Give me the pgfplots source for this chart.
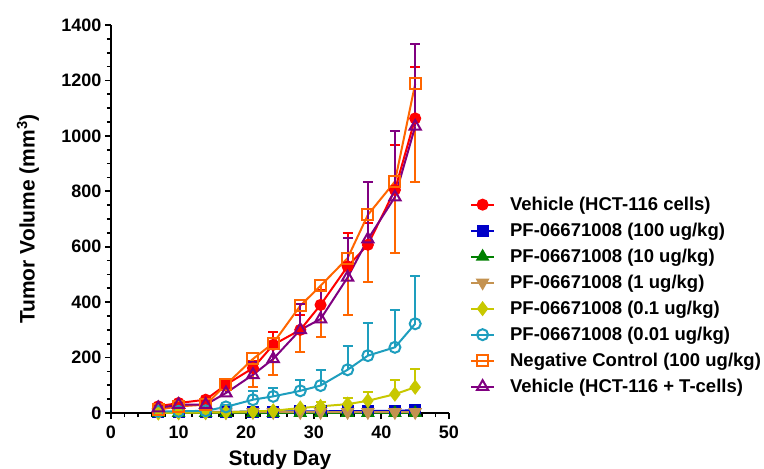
\documentclass[border=0pt]{standalone}
\usepackage{pgfplots}
\pgfplotsset{compat=1.18}
\usepackage{fontspec}
\setmainfont{Liberation Sans}

\definecolor{cRed}{RGB}{255,0,0}
\definecolor{cBlue}{RGB}{0,0,200}
\definecolor{cGreen}{RGB}{0,128,0}
\definecolor{cTan}{RGB}{196,146,80}
\definecolor{cYel}{RGB}{200,200,0}
\definecolor{cTeal}{RGB}{30,158,190}
\definecolor{cOrange}{RGB}{255,102,0}
\definecolor{cPurple}{RGB}{128,0,128}

\begin{document}
\begin{tikzpicture}
\useasboundingbox (-111pt,-56pt) rectangle (653pt,413pt);
\begin{axis}[
    scale only axis,
    width=338pt, height=388pt,
    xmin=0, xmax=50, ymin=0, ymax=1400,
    xtick={0,10,...,50}, ytick={0,200,...,1400},
    minor x tick num=4, minor y tick num=3,
    axis lines*=left,
    axis line style={-, line width=2.2pt},
    tick style={line width=1.8pt, black},
    tick align=outside,
    major tick length=6pt, minor tick length=4pt,
    clip=false,
    /pgf/number format/assume math mode=true,
    /pgf/number format/1000 sep={},
    tick label style={font=\fontsize{18}{18}\selectfont\bfseries},
    xticklabel style={yshift=-3pt},
    xlabel={Study Day},
    ylabel={Tumor Volume (mm\textsuperscript{3})},
    xlabel style={font=\fontsize{21}{21}\selectfont\bfseries, at={(axis description cs:0.5,0)}, anchor=center, yshift=-47pt},
    ylabel style={font=\fontsize{21}{21}\selectfont\bfseries, at={(axis description cs:-0.2456,0.5)}, anchor=center},
    every axis plot/.append style={line width=2pt},
    error bars/y dir=plus,
    error bars/y explicit,
    error bars/error bar style={line width=2pt},
    error bars/error mark options={rotate=90, mark size=5pt, line width=2pt},
    legend style={at={(1.053,0.567)}, anchor=north west, draw=none, fill=none,
        font=\fontsize{18.5}{18.5}\selectfont\bfseries, row sep=7.1pt,
        /tikz/every odd column/.append style={column sep=13pt}},
    legend cell align=left,
    legend image code/.code={\draw[mark repeat=2, mark phase=2] plot coordinates {(0pt,0pt) (11.5pt,0pt) (23pt,0pt)};},
]
\addplot[color=cRed, mark=*, mark size=5pt, mark options={solid, fill=cRed}] table[x=d, y=v, y error=e] {
d v e
7 24 5
10 36 6
14 48 8
17 102 15
21 162 25
24 246 45
28 300 55
31 390 55
35 529 120
38 607 80
42 805 162
45 1063 187
};
\addlegendentry{Vehicle (HCT-116 cells)}
\addplot[color=cBlue, mark=square*, mark size=5pt, mark options={solid, fill=cBlue}] table[x=d, y=v, y error=e] {
d v e
7 3 1
10 3 1
14 4 1
17 4 1
21 5 2
24 5 2
28 6 2
31 6 2
35 7 3
38 7 3
42 8 3
45 10 4
};
\addlegendentry{PF-06671008 (100 ug/kg)}
\addplot[color=cGreen, mark=triangle*, mark size=6pt, mark options={solid, fill=cGreen}] table[x=d, y=v, y error=e] {
d v e
7 0 0
10 0 0
14 0 0
17 0 0
21 0 0
24 0 0
28 0 0
31 0 0
35 0 0
38 0 0
42 0 0
45 0 0
};
\addlegendentry{PF-06671008 (10 ug/kg)}
\addplot[color=cTan, mark=triangle*, mark size=6pt, mark options={solid, fill=cTan, rotate=180}] table[x=d, y=v, y error=e] {
d v e
7 2 1
10 2 1
14 2 1
17 2 1
21 3 1
24 3 1
28 3 1
31 3 1
35 3 1
38 3 1
42 3 1
45 3 1
};
\addlegendentry{PF-06671008 (1 ug/kg)}
\addplot[color=cYel, mark=diamond*, mark size=6pt, mark options={solid, fill=cYel}] table[x=d, y=v, y error=e] {
d v e
7 0 0
10 1 0
14 2 1
17 3 1
21 6 3
24 8 4
28 18 6
31 24 14
35 32 21
38 44 32
42 68 50
45 93 66
};
\addlegendentry{PF-06671008 (0.1 ug/kg)}
\addplot[color=cTeal, mark=o, mark size=5.5pt, mark options={solid, fill=white}] table[x=d, y=v, y error=e] {
d v e
7 6 2
10 6 2
14 8 2
17 22 8
21 48 30
24 60 30
28 80 40
31 99 55
35 156 84
38 207 117
42 237 136
45 322 174
};
\addlegendentry{PF-06671008 (0.01 ug/kg)}
\addplot[color=cOrange, mark=square, mark size=5.5pt, mark options={solid, fill=white},
    error bars/y dir=minus] table[x=d, y=v, y error=e] {
d v e
7 12 3
10 24 4
14 30 5
17 102 15
21 195 100
24 252 115
28 387 168
31 459 186
35 559 207
38 715 244
42 835 258
45 1188 353
};
\addlegendentry{Negative Control (100 ug/kg)}
\addplot[color=cPurple, mark=triangle, mark size=6.5pt, mark options={solid, fill=white}] table[x=d, y=v, y error=e] {
d v e
7 18 3
10 30 4
14 30 5
17 72 30
21 138 45
24 195 60
28 300 93
31 339 102
35 489 142
38 627 207
42 779 240
45 1034 296
};
\addlegendentry{Vehicle (HCT-116 + T-cells)}
\end{axis}
\end{tikzpicture}
\end{document}
